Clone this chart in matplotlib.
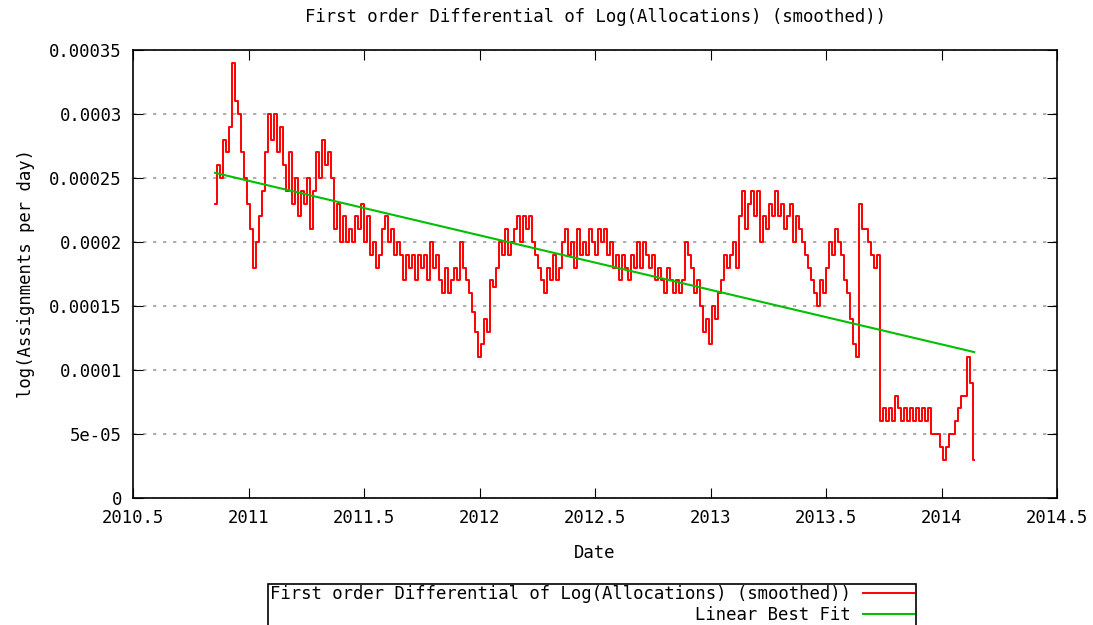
import numpy as np
import matplotlib
matplotlib.use('Agg')
import matplotlib.pyplot as plt

# Smoothed first-order differential (units of 1e-5)
diff_vals = [
    23, 26, 25, 28, 27, 29, 34, 31, 30, 27, 25, 23, 21, 18, 20, 22, 24,
    27, 30, 28, 30, 27, 29, 26, 24, 27, 23, 25, 22, 24, 23, 25, 21,
    24, 27, 25, 28, 26, 27, 25, 21, 23, 20, 22, 20, 21, 20, 22, 21,
    23, 20, 22, 19, 20, 18, 19, 21, 22, 20, 21, 19, 20, 19,
    17, 19, 18, 19, 17, 19, 18, 19, 17, 20, 18, 19, 17, 16, 18, 16, 17, 18, 17,
    20, 18, 17, 16, 14.5, 13, 11, 12, 14, 13, 17, 16.5, 18, 20, 19,
    21, 19, 20, 21, 22, 20, 22, 21, 22, 20, 19, 18, 17, 16, 18, 17, 19, 17, 18,
    20, 21, 19, 20, 18, 21, 19, 20, 19, 21, 20, 19, 21, 20, 21, 19, 20,
    18, 19, 17, 19, 18, 17, 19, 18, 20, 18, 20, 19, 18, 19, 17, 18,
    17, 16, 18, 17, 16, 17, 16, 17, 20, 19, 18, 16, 17, 15, 13, 14, 12,
    15, 14, 16, 17, 19, 18, 19, 20, 18, 22, 24, 21, 23, 24, 22, 24, 20, 22,
    21, 23, 22, 24, 22, 23, 21, 22, 23, 20, 22, 21, 20, 19, 18, 17, 16,
    15, 17, 16, 18, 20, 19, 21, 20, 19, 17, 16, 14, 12, 11, 23, 21, 21,
    20, 19, 18, 19,
    6, 7, 6, 7, 6, 8, 7, 6, 7, 6, 7, 6, 7, 6, 7, 6, 7,
    5, 5, 5, 4, 3, 4, 5, 5, 6, 7, 8, 8, 11, 9, 3,
]
date_start, date_end = 2010.855, 2014.141

# Linear best fit end points
fit_dates = [2010.855, 2014.141]
fit_vals = [0.000254, 0.000114]

dates = np.linspace(date_start, date_end, len(diff_vals))
values = np.array(diff_vals) * 1e-5

plt.rcParams['font.family'] = ['DejaVu Sans Mono']
plt.rcParams['font.size'] = 12.4

fig = plt.figure(figsize=(10.93, 6.25), dpi=100)
ax = fig.add_axes([0.1217, 0.2032, 0.8455, 0.7168])

ax.plot(dates, values, color='#ff0000', linewidth=1.4, drawstyle='steps-mid',
        label='First order Differential of Log(Allocations) (smoothed))')
ax.plot(fit_dates, fit_vals, color='#00c000', linewidth=1.5,
        label='Linear Best Fit')

ax.set_xlim(2010.5, 2014.5)
ax.set_ylim(0, 0.00035)
ax.set_xticks(np.arange(2010.5, 2014.51, 0.5))
ax.set_xticklabels(['2010.5', '2011', '2011.5', '2012', '2012.5',
                    '2013', '2013.5', '2014', '2014.5'])
ax.set_yticks(np.arange(0, 0.000351, 0.00005))
ax.set_yticklabels(['0', '5e-05', '0.0001', '0.00015', '0.0002',
                    '0.00025', '0.0003', '0.00035'])
ax.tick_params(direction='in', length=7, top=True, right=True, pad=8)
ax.grid(axis='y', color='#a0a0a0', linestyle=(0, (2, 4)), linewidth=1.2)
for s in ax.spines.values():
    s.set_linewidth(1.2)

ax.set_title('First order Differential of Log(Allocations) (smoothed))',
             fontsize=12.4, pad=20)
ax.set_xlabel('Date', labelpad=12)
ax.set_ylabel('log(Assignments per day)', labelpad=10)

leg = fig.legend(loc='upper center', bbox_to_anchor=(0.5416, 0.066),
                 markerfirst=False, fancybox=False, edgecolor='black',
                 framealpha=1, borderpad=0.1, handlelength=3.0,
                 borderaxespad=0, labelspacing=0.15, handletextpad=0.7,
                 fontsize=12.4)
leg.get_frame().set_linewidth(1.2)
for t in leg.get_texts():
    t.set_ha('right')

plt.savefig('out.png', dpi=100)
plt.close()
